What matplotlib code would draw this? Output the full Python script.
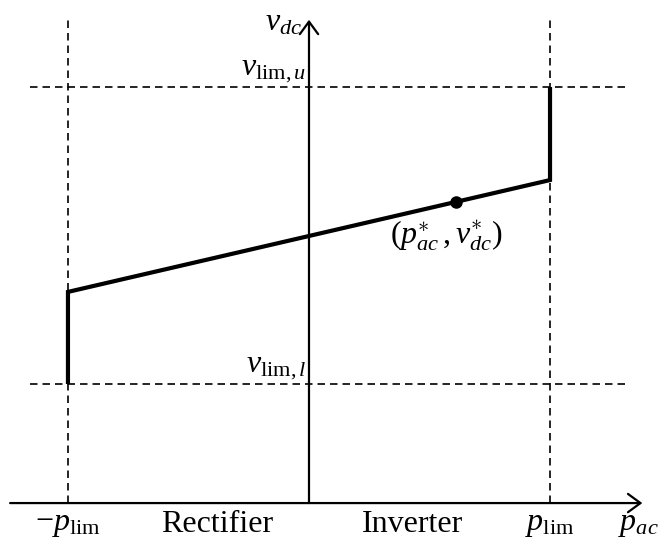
import matplotlib
matplotlib.use("Agg")
import matplotlib.pyplot as plt

plt.rcParams['font.family'] = ['Liberation Serif', 'DejaVu Serif']
plt.rcParams['mathtext.fontset'] = 'custom'
plt.rcParams['mathtext.rm'] = 'Liberation Serif'
plt.rcParams['mathtext.it'] = 'Liberation Serif:italic'
plt.rcParams['mathtext.bf'] = 'Liberation Serif:bold'

# droop characteristic (units: p_lim = 1)
p_lim = 1.0
v_lim_u = 1.726
v_lim_l = 0.494
droop_p = [-1.0, 1.0]
droop_v = [0.876, 1.340]
p_star = 0.61

region_labels = ['Rectifier', 'Inverter']
region_pos = [-0.38, 0.43]

fig = plt.figure(figsize=(6.58, 5.52), dpi=100)
ax = fig.add_axes([0, 0, 1, 1])
ax.set_xlim(-1.282, 1.448)
ax.set_ylim(-0.203, 2.087)
ax.axis('off')

# axes with arrows
arr = dict(arrowstyle='->,head_length=0.45,head_width=0.33', lw=1.6,
           color='k', shrinkA=0, shrinkB=0, mutation_scale=20)
ax.annotate('', xy=(1.383, 0), xytext=(-1.24, 0), arrowprops=arr)
ax.annotate('', xy=(0, 2.005), xytext=(0, 0), arrowprops=arr)

# dashed limit lines
dash = dict(color='k', lw=1.2, ls=(0, (4.5, 3)))
ax.plot([-p_lim, -p_lim], [0, 2.015], **dash)
ax.plot([p_lim, p_lim], [0, 2.015], **dash)
ax.plot([-1.157, 1.311], [v_lim_u, v_lim_u], **dash)
ax.plot([-1.157, 1.311], [v_lim_l, v_lim_l], **dash)

# characteristic
xs = [droop_p[0], droop_p[0], droop_p[1], droop_p[1]]
ys = [v_lim_l, droop_v[0], droop_v[1], v_lim_u]
ax.plot(xs, ys, color='k', lw=3, solid_joinstyle='miter', solid_capstyle='butt')
v_star = droop_v[0] + (p_star - droop_p[0]) * (droop_v[1] - droop_v[0]) / (droop_p[1] - droop_p[0])
ax.plot([p_star], [v_star], 'o', color='k', ms=8)

fs = 23
ax.text(p_star - 0.04, v_star - 0.07, r'$(p_{ac}^{\ast}\,,v_{dc}^{\ast})$', fontsize=fs,
        ha='center', va='top')
ax.text(-0.03, 1.99, r'$v_{dc}$', fontsize=fs, ha='right', va='center')
ax.text(-0.01, v_lim_u + 0.01, r'$v_{\mathrm{lim},u}$', fontsize=fs, ha='right', va='bottom')
ax.text(-0.01, v_lim_l + 0.01, r'$v_{\mathrm{lim},l}$', fontsize=fs, ha='right', va='bottom')
ax.text(-p_lim, -0.03, r'$-p_{\mathrm{lim}}$', fontsize=fs, ha='center', va='top')
ax.text(p_lim, -0.03, r'$p_{\mathrm{lim}}$', fontsize=fs, ha='center', va='top')
ax.text(1.365, -0.03, r'$p_{ac}$', fontsize=fs, ha='center', va='top')
for lab, xp in zip(region_labels, region_pos):
    ax.text(xp, -0.03, lab, fontsize=fs, ha='center', va='top')

fig.savefig('out.png', dpi=100)
